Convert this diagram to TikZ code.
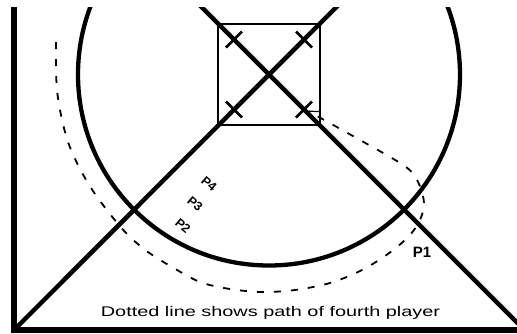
\documentclass[tikz,border=0pt]{standalone}
\usepackage{fontspec}
\setmainfont{Liberation Sans}
\usetikzlibrary{arrows.meta,calc}
\begin{document}
\begin{tikzpicture}[x=1pt,y=-1pt,
  heavy/.style={line width=4.5pt},
  ring/.style={line width=4.3pt},
  tickmark/.style={line width=2.5pt},
  boxline/.style={line width=2pt},
  pathdash/.style={line width=1.8pt, dash pattern=on 7pt off 10pt},
  plabel/.style={font=\bfseries\fontsize{12.5}{12.5}\selectfont, rotate=-40, inner sep=0pt},
  caption/.style={font=\fontsize{14}{14}\selectfont, inner sep=0pt},
]
\useasboundingbox (0,0) rectangle (517,333);
\coordinate (C) at (269,74.5);
\coordinate (BL) at (14,330);
\coordinate (TL) at (14,7);
\coordinate (BR) at (517,330);
\coordinate (L1top) at (345,-1.5);
\coordinate (L2top) at (193,-1.5);
\coordinate (L2end) at (522,327.5);
\begin{scope}
  \clip (0,7) rectangle (517,333);
  \draw[ring] (C) circle[radius=191pt];
  \draw[heavy] (BL) -- (L1top);
  \draw[heavy] (L2top) -- (L2end);
  \draw[line width=5.5pt] (TL) -- (14,333);
  \draw[line width=6pt] (11,330) -- (BR);
\end{scope}
% square
\draw[boxline] (218,24) rectangle (320,125);
% ticks
\coordinate (X1) at (234,109.5);
\coordinate (X2) at (304,39.5);
\coordinate (X3) at (234,39.5);
\coordinate (X4) at (304,109.5);
\draw[tickmark] ($(X1)+(-8,-8)$) -- ($(X1)+(8,8)$);
\draw[tickmark] ($(X2)+(-8,-8)$) -- ($(X2)+(8,8)$);
\draw[tickmark] ($(X3)+(-8,8)$) -- ($(X3)+(8,-8)$);
\draw[tickmark] ($(X4)+(-8,8)$) -- ($(X4)+(8,-8)$);
% dashed path of fourth player
\coordinate (Tip) at (307,110.5);
\draw[pathdash, -{Straight Barb[length=10pt,width=10pt,line width=1.2pt]}]
  plot[smooth, tension=0.55] coordinates {
  (56,42) (56,65) (57,90) (61,115) (68,142) (79,167) (93,191) (110,214)
  (128,235) (148,252) (172,267) (200,282) (230,289) (262,292) (295,290)
  (330,283) (360,271) (385,256) (405,240) (418,224) (424,205) (419,184)
  (406,167) (360,140) (Tip)};
% labels
\node[plabel] (P4) at (209,184) {P4};
\node[plabel] (P3) at (195,204) {P3};
\node[plabel] (P2) at (183,226) {P2};
\node[font=\bfseries\fontsize{15}{15}\selectfont, inner sep=0pt] (P1) at (422,252) {P1};
\node[caption] (cap) at (270.5,313) {\scalebox{1.42}[1]{Dotted line shows path of fourth player}};
\end{tikzpicture}
\end{document}
